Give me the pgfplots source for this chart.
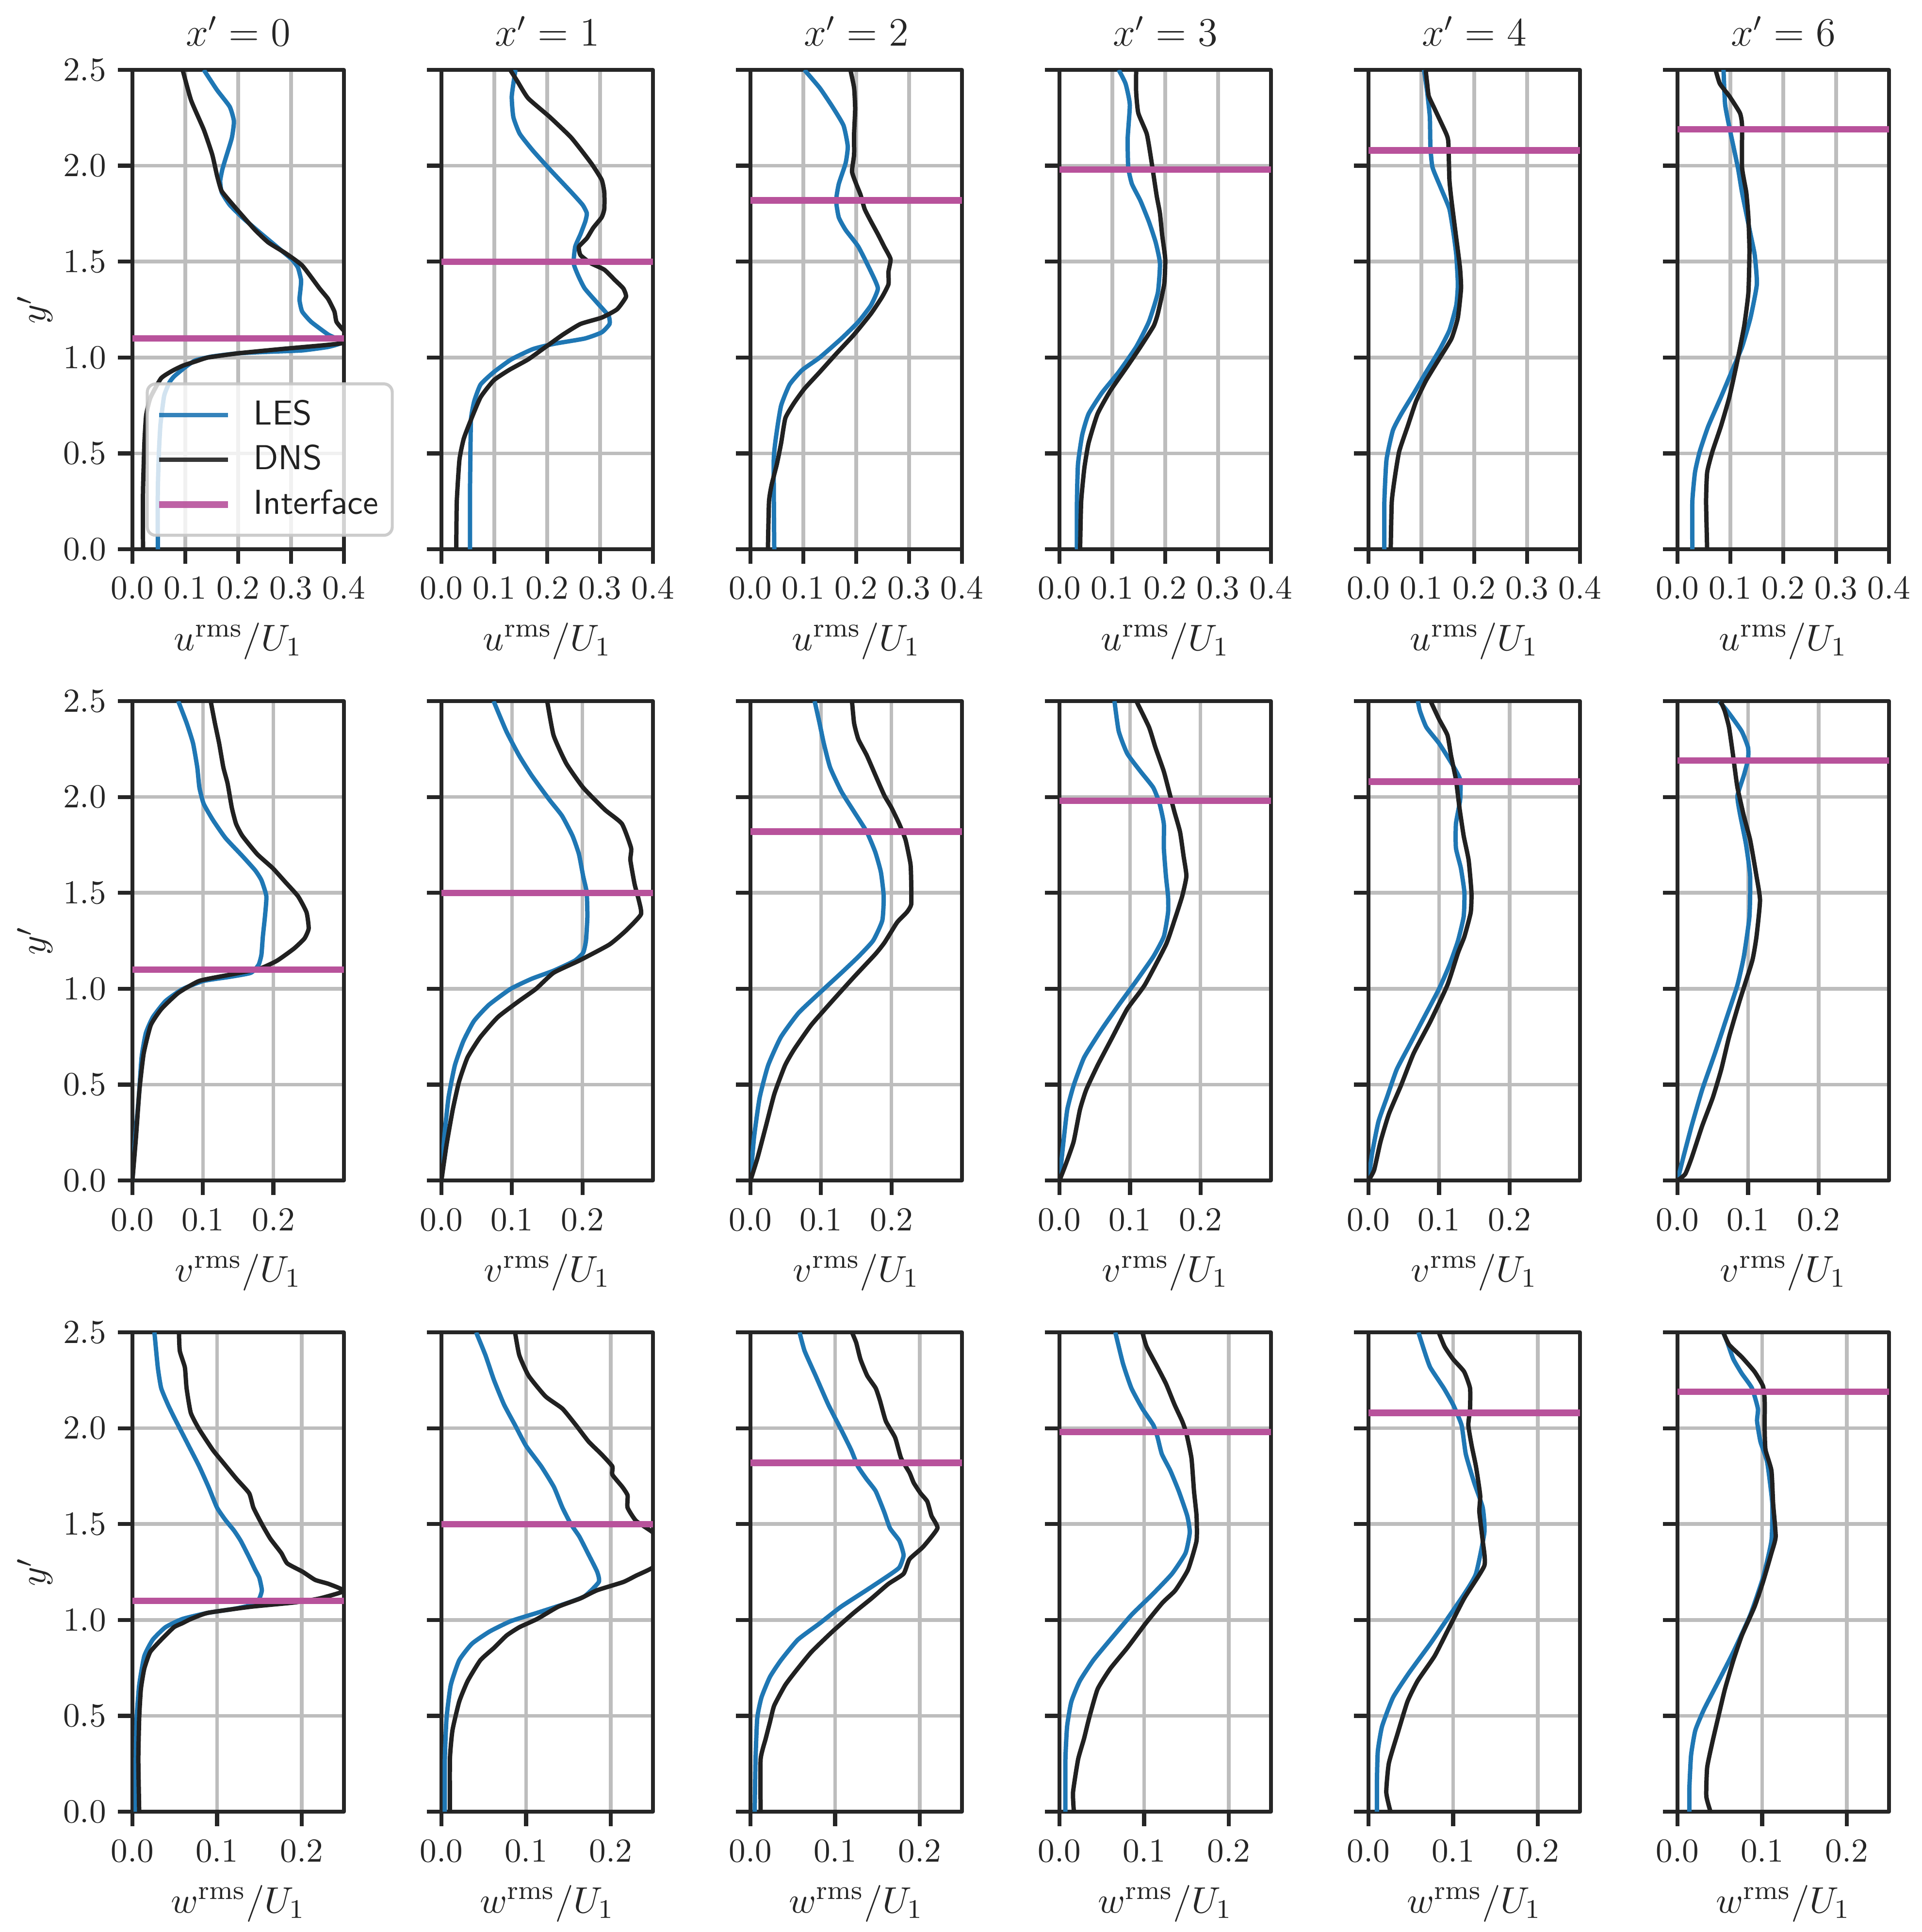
\documentclass[border=0pt]{standalone}
\usepackage{pgfplots}
\pgfplotsset{compat=1.18}
\definecolor{lesc}{HTML}{1F77B4}
\definecolor{dnsc}{HTML}{212121}
\definecolor{intc}{RGB}{184,82,155}
\definecolor{spinec}{HTML}{262626}
\definecolor{gridc}{HTML}{BDBDBD}
\pgfplotsset{
  panel/.style={
    scale only axis, width=63.02pt, height=142.82pt,
    anchor=north west,
    ymin=0, ymax=2.5, ytick={0,0.5,1,1.5,2,2.5},
    xmin=0,
    scaled ticks=false,
    grid=major,
    major grid style={gridc, line width=1.1pt},
    axis line style={spinec, line width=1.16pt},
    tick style={spinec, line width=1.2pt},
    major tick length=4.3pt,
    tick align=outside,
    tick pos=left,
    tick label style={font=\fontsize{10}{12}\selectfont, text=spinec},
    xticklabel style={yshift=-0.6pt},
    xticklabel={\pgfmathprintnumber[fixed,fixed zerofill,precision=1]{\tick}},
    yticklabel={\pgfmathprintnumber[fixed,fixed zerofill,precision=1]{\tick}},
    label style={font=\fontsize{11.3}{13}\selectfont, text=spinec},
    xlabel style={at={(axis description cs:0.5,0)}, anchor=base, yshift=-30.1pt},
    ylabel style={at={(axis description cs:-0.461,0.5)}, anchor=center},
    every axis title shift=0pt,
    title style={at={(axis description cs:0.5,1)}, anchor=base, yshift=7.1pt, font=\fontsize{12}{14}\selectfont, text=spinec},
    line join=round,
  },
  noyl/.style={yticklabels={}},
  urow/.style={xmax=0.4, xtick={0,0.1,0.2,0.3,0.4}, xlabel={$u^{\mathrm{rms}}/U_1$}},
  vrow/.style={xmax=0.3, xtick={0,0.1,0.2}, xlabel={$v^{\mathrm{rms}}/U_1$}},
  wrow/.style={xmax=0.25, xtick={0,0.1,0.2}, xlabel={$w^{\mathrm{rms}}/U_1$}},
  les/.style={lesc, line width=1.3pt, smooth, tension=0.3},
  dns/.style={dnsc, line width=1.3pt, smooth, tension=0.3},
  intf/.style={intc, line width=1.95pt},
}
\begin{document}
\begin{tikzpicture}
\useasboundingbox (0,0) rectangle (572.57pt,-575.60pt);
% ================= ROW 1 : u =================
\begin{axis}[panel, urow, at={(39.46pt,-20.82pt)}, title={$x' = 0$}, ylabel={$y'$},
  legend style={at={(0.063,0.026)}, anchor=south west, draw=black!22, line width=0.9pt,
    fill=white, fill opacity=0.8, text opacity=1, draw opacity=0.9, rounded corners=2.5pt,
    font=\sffamily\fontsize{10.3}{12}\selectfont, inner xsep=2.5pt, inner ysep=3.2pt,
    row sep=1.3pt, nodes={inner sep=1.6pt, text=dnsc}},
  legend cell align=left,
  legend image code/.code={\draw[#1] (0pt,0pt) -- (20.6pt,0pt); \path (25.6pt,0pt);}]
\addplot[les] coordinates {(0.048,0) (0.048,0.3) (0.05,0.5) (0.053,0.65) (0.06,0.8) (0.07,0.87) (0.079,0.902) (0.1,0.95) (0.119,0.985) (0.15,1.005) (0.2,1.022) (0.26,1.03) (0.321,1.037) (0.37,1.055) (0.394,1.075) (0.385,1.1) (0.37,1.12) (0.338,1.186) (0.321,1.24) (0.316,1.3) (0.318,1.36) (0.319,1.404) (0.313,1.469) (0.301,1.513) (0.273,1.578) (0.24,1.654) (0.208,1.73) (0.184,1.796) (0.169,1.861) (0.166,1.92) (0.17,1.98) (0.176,2.036) (0.188,2.145) (0.192,2.232) (0.184,2.308) (0.16,2.395) (0.135,2.5)};
\addlegendentry{LES}
\addplot[dns] coordinates {(0.02,0) (0.02,0.3) (0.022,0.5) (0.023,0.575) (0.026,0.7) (0.034,0.79) (0.054,0.891) (0.075,0.93) (0.095,0.957) (0.12,0.98) (0.143,1.0) (0.2,1.022) (0.281,1.044) (0.362,1.064) (0.4,1.076) (0.42,1.1) (0.4,1.14) (0.386,1.186) (0.382,1.24) (0.37,1.306) (0.354,1.36) (0.321,1.48) (0.289,1.545) (0.257,1.6) (0.232,1.665) (0.204,1.752) (0.18,1.829) (0.168,1.872) (0.16,1.949) (0.151,2.058) (0.135,2.188) (0.111,2.341) (0.095,2.5)};
\addlegendentry{DNS}
\addplot[intf] coordinates {(0,1.10) (0.4,1.10)};
\addlegendentry{Interface}
\end{axis}
\begin{axis}[panel, urow, noyl, at={(131.54pt,-20.82pt)}, title={$x' = 1$}]
\addplot[les] coordinates {(0.054,0) (0.054,0.3) (0.055,0.55) (0.056,0.684) (0.062,0.772) (0.074,0.859) (0.099,0.924) (0.132,0.99) (0.173,1.044) (0.214,1.072) (0.271,1.099) (0.303,1.131) (0.318,1.175) (0.316,1.218) (0.295,1.284) (0.271,1.36) (0.259,1.425) (0.25,1.491) (0.253,1.578) (0.263,1.643) (0.272,1.709) (0.275,1.752) (0.267,1.796) (0.246,1.861) (0.205,1.981) (0.173,2.079) (0.148,2.167) (0.136,2.254) (0.133,2.363) (0.14,2.5)};
\addplot[dns] coordinates {(0.028,0) (0.029,0.248) (0.034,0.466) (0.042,0.575) (0.054,0.663) (0.074,0.793) (0.099,0.881) (0.128,0.935) (0.164,0.99) (0.197,1.055) (0.23,1.12) (0.263,1.175) (0.303,1.208) (0.332,1.251) (0.349,1.316) (0.344,1.36) (0.328,1.404) (0.308,1.458) (0.283,1.491) (0.263,1.534) (0.26,1.578) (0.275,1.622) (0.287,1.676) (0.303,1.731) (0.308,1.774) (0.308,1.861) (0.303,1.927) (0.283,2.014) (0.246,2.145) (0.205,2.254) (0.164,2.352) (0.144,2.439) (0.13,2.5)};
\addplot[intf] coordinates {(0,1.50) (0.4,1.50)};
\end{axis}
\begin{axis}[panel, urow, noyl, at={(223.62pt,-20.82pt)}, title={$x' = 2$}]
\addplot[les] coordinates {(0.045,0) (0.044,0.466) (0.05,0.619) (0.058,0.75) (0.074,0.859) (0.098,0.935) (0.131,1.0) (0.172,1.099) (0.204,1.186) (0.228,1.273) (0.241,1.36) (0.228,1.447) (0.204,1.578) (0.18,1.665) (0.167,1.731) (0.162,1.818) (0.167,1.905) (0.18,2.014) (0.184,2.101) (0.176,2.21) (0.155,2.308) (0.131,2.406) (0.102,2.5)};
\addplot[dns] coordinates {(0.033,0) (0.035,0.248) (0.04,0.336) (0.05,0.445) (0.058,0.554) (0.066,0.684) (0.082,0.761) (0.102,0.837) (0.131,0.924) (0.163,1.022) (0.196,1.12) (0.228,1.229) (0.249,1.316) (0.261,1.382) (0.261,1.447) (0.265,1.513) (0.253,1.578) (0.241,1.643) (0.228,1.709) (0.216,1.774) (0.208,1.85) (0.2,1.905) (0.192,1.97) (0.196,2.058) (0.196,2.167) (0.198,2.297) (0.196,2.406) (0.189,2.5)};
\addplot[intf] coordinates {(0,1.82) (0.4,1.82)};
\end{axis}
\begin{axis}[panel, urow, noyl, at={(315.70pt,-20.82pt)}, title={$x' = 3$}]
\addplot[les] coordinates {(0.033,0) (0.033,0.248) (0.035,0.445) (0.043,0.597) (0.055,0.706) (0.08,0.815) (0.112,0.924) (0.145,1.055) (0.169,1.186) (0.186,1.338) (0.19,1.491) (0.182,1.6) (0.169,1.709) (0.153,1.818) (0.137,1.905) (0.13,1.992) (0.129,2.145) (0.133,2.319) (0.125,2.428) (0.112,2.5)};
\addplot[dns] coordinates {(0.039,0) (0.041,0.248) (0.047,0.423) (0.055,0.554) (0.072,0.706) (0.096,0.826) (0.129,0.957) (0.153,1.055) (0.178,1.164) (0.186,1.229) (0.198,1.382) (0.2,1.513) (0.194,1.643) (0.19,1.752) (0.184,1.84) (0.178,1.949) (0.172,2.058) (0.165,2.167) (0.149,2.275) (0.145,2.384) (0.145,2.5)};
\addplot[intf] coordinates {(0,1.98) (0.4,1.98)};
\end{axis}
\begin{axis}[panel, urow, noyl, at={(407.78pt,-20.82pt)}, title={$x' = 4$}]
\addplot[les] coordinates {(0.03,0) (0.03,0.248) (0.034,0.466) (0.046,0.619) (0.062,0.706) (0.086,0.815) (0.109,0.924) (0.133,1.033) (0.153,1.142) (0.166,1.273) (0.169,1.382) (0.166,1.534) (0.161,1.643) (0.153,1.774) (0.137,1.883) (0.121,1.992) (0.117,2.101) (0.116,2.254) (0.111,2.384) (0.105,2.5)};
\addplot[dns] coordinates {(0.042,0) (0.044,0.248) (0.05,0.379) (0.058,0.51) (0.074,0.641) (0.09,0.772) (0.109,0.881) (0.133,0.99) (0.157,1.099) (0.169,1.208) (0.175,1.36) (0.173,1.469) (0.165,1.643) (0.157,1.818) (0.153,1.927) (0.151,2.123) (0.147,2.167) (0.125,2.297) (0.114,2.363) (0.111,2.428) (0.108,2.5)};
\addplot[intf] coordinates {(0,2.08) (0.4,2.08)};
\end{axis}
\begin{axis}[panel, urow, noyl, at={(499.86pt,-20.82pt)}, title={$x' = 6$}]
\addplot[les] coordinates {(0.028,0) (0.028,0.248) (0.033,0.401) (0.042,0.51) (0.058,0.641) (0.082,0.793) (0.102,0.924) (0.122,1.055) (0.138,1.208) (0.15,1.382) (0.146,1.534) (0.138,1.643) (0.122,1.861) (0.114,1.992) (0.099,2.188) (0.09,2.319) (0.087,2.5)};
\addplot[dns] coordinates {(0.056,0) (0.054,0.248) (0.056,0.401) (0.066,0.51) (0.082,0.641) (0.098,0.793) (0.112,0.968) (0.126,1.164) (0.134,1.338) (0.136,1.556) (0.134,1.731) (0.13,1.861) (0.122,1.992) (0.122,2.21) (0.118,2.275) (0.098,2.363) (0.08,2.428) (0.072,2.5)};
\addplot[intf] coordinates {(0,2.19) (0.4,2.19)};
\end{axis}
% ================= ROW 2 : v =================
\begin{axis}[panel, vrow, at={(39.46pt,-208.88pt)}, ylabel={$y'$}]
\addplot[les] coordinates {(0,0) (0.004,0.223) (0.009,0.432) (0.013,0.642) (0.019,0.768) (0.029,0.852) (0.047,0.936) (0.071,0.998) (0.101,1.041) (0.138,1.062) (0.168,1.083) (0.179,1.125) (0.183,1.178) (0.185,1.272) (0.188,1.377) (0.19,1.482) (0.183,1.566) (0.174,1.618) (0.156,1.692) (0.132,1.786) (0.114,1.881) (0.101,1.965) (0.095,2.049) (0.092,2.154) (0.086,2.28) (0.077,2.385) (0.065,2.5)};
\addplot[dns] coordinates {(0,0) (0.005,0.223) (0.01,0.474) (0.016,0.663) (0.026,0.81) (0.041,0.894) (0.065,0.978) (0.095,1.041) (0.138,1.073) (0.18,1.104) (0.205,1.146) (0.229,1.209) (0.244,1.262) (0.25,1.314) (0.247,1.398) (0.235,1.482) (0.217,1.556) (0.199,1.629) (0.177,1.702) (0.156,1.797) (0.147,1.86) (0.141,1.944) (0.135,2.07) (0.129,2.154) (0.123,2.28) (0.117,2.385) (0.111,2.5)};
\addplot[intf] coordinates {(0,1.10) (0.3,1.10)};
\end{axis}
\begin{axis}[panel, vrow, noyl, at={(131.54pt,-208.88pt)}]
\addplot[les] coordinates {(0,0) (0.004,0.223) (0.01,0.432) (0.019,0.6) (0.031,0.726) (0.046,0.831) (0.067,0.915) (0.098,0.999) (0.128,1.052) (0.159,1.094) (0.189,1.146) (0.201,1.188) (0.205,1.251) (0.207,1.377) (0.206,1.503) (0.201,1.587) (0.195,1.702) (0.186,1.797) (0.171,1.902) (0.153,1.986) (0.128,2.112) (0.11,2.217) (0.092,2.343) (0.074,2.5)};
\addplot[dns] coordinates {(0,0) (0.007,0.181) (0.016,0.369) (0.025,0.516) (0.037,0.642) (0.055,0.747) (0.08,0.852) (0.11,0.936) (0.134,0.999) (0.159,1.083) (0.195,1.146) (0.238,1.23) (0.262,1.304) (0.283,1.388) (0.28,1.461) (0.274,1.545) (0.268,1.671) (0.269,1.734) (0.256,1.86) (0.232,1.933) (0.201,2.049) (0.177,2.175) (0.159,2.322) (0.15,2.5)};
\addplot[intf] coordinates {(0,1.50) (0.3,1.50)};
\end{axis}
\begin{axis}[panel, vrow, noyl, at={(223.62pt,-208.88pt)}]
\addplot[les] coordinates {(0,0) (0.005,0.223) (0.013,0.432) (0.025,0.6) (0.043,0.747) (0.068,0.873) (0.098,0.978) (0.129,1.083) (0.153,1.167) (0.174,1.251) (0.187,1.356) (0.189,1.482) (0.185,1.608) (0.177,1.713) (0.165,1.818) (0.147,1.923) (0.129,2.028) (0.113,2.154) (0.104,2.28) (0.098,2.385) (0.091,2.5)};
\addplot[dns] coordinates {(0,0) (0.01,0.118) (0.022,0.285) (0.034,0.453) (0.049,0.6) (0.062,0.684) (0.086,0.81) (0.116,0.936) (0.147,1.062) (0.177,1.18) (0.19,1.24) (0.208,1.346) (0.222,1.4) (0.228,1.44) (0.228,1.55) (0.227,1.65) (0.22,1.776) (0.211,1.86) (0.2,1.944) (0.19,2.007) (0.18,2.09) (0.165,2.217) (0.153,2.301) (0.147,2.385) (0.144,2.5)};
\addplot[intf] coordinates {(0,1.82) (0.3,1.82)};
\end{axis}
\begin{axis}[panel, vrow, noyl, at={(315.70pt,-208.88pt)}]
\addplot[les] coordinates {(0,0) (0.005,0.181) (0.011,0.369) (0.02,0.495) (0.035,0.642) (0.06,0.789) (0.084,0.915) (0.109,1.041) (0.133,1.167) (0.148,1.272) (0.154,1.398) (0.154,1.482) (0.151,1.587) (0.148,1.734) (0.148,1.86) (0.142,1.965) (0.133,2.049) (0.115,2.133) (0.096,2.227) (0.084,2.343) (0.078,2.5)};
\addplot[dns] coordinates {(0,0) (0.008,0.076) (0.02,0.202) (0.029,0.369) (0.038,0.474) (0.054,0.6) (0.075,0.747) (0.096,0.894) (0.121,1.02) (0.151,1.23) (0.163,1.356) (0.174,1.482) (0.18,1.587) (0.176,1.692) (0.171,1.818) (0.163,1.923) (0.157,2.007) (0.148,2.133) (0.136,2.259) (0.127,2.364) (0.109,2.5)};
\addplot[intf] coordinates {(0,1.98) (0.3,1.98)};
\end{axis}
\begin{axis}[panel, vrow, noyl, at={(407.78pt,-208.88pt)}]
\addplot[les] coordinates {(0,0) (0.005,0.139) (0.014,0.306) (0.026,0.432) (0.04,0.579) (0.058,0.705) (0.076,0.831) (0.1,0.999) (0.115,1.125) (0.127,1.251) (0.135,1.377) (0.136,1.503) (0.131,1.629) (0.124,1.734) (0.124,1.86) (0.13,1.986) (0.13,2.091) (0.118,2.175) (0.1,2.28) (0.082,2.364) (0.073,2.448) (0.07,2.5)};
\addplot[dns] coordinates {(0,0) (0.008,0.055) (0.017,0.202) (0.029,0.348) (0.046,0.495) (0.064,0.663) (0.088,0.831) (0.112,1.02) (0.127,1.188) (0.136,1.272) (0.145,1.398) (0.146,1.503) (0.142,1.671) (0.135,1.797) (0.129,1.944) (0.124,2.091) (0.117,2.217) (0.112,2.322) (0.1,2.406) (0.088,2.5)};
\addplot[intf] coordinates {(0,2.08) (0.3,2.08)};
\end{axis}
\begin{axis}[panel, vrow, noyl, at={(499.86pt,-208.88pt)}]
\addplot[les] coordinates {(0,0) (0.008,0.118) (0.02,0.285) (0.035,0.474) (0.053,0.663) (0.07,0.852) (0.085,1.02) (0.094,1.167) (0.102,1.377) (0.103,1.587) (0.097,1.755) (0.088,1.923) (0.085,2.007) (0.094,2.112) (0.1,2.196) (0.1,2.259) (0.091,2.343) (0.073,2.437) (0.059,2.5)};
\addplot[dns] coordinates {(0,0) (0.011,0.034) (0.02,0.118) (0.035,0.285) (0.05,0.432) (0.062,0.579) (0.073,0.747) (0.088,0.936) (0.106,1.146) (0.112,1.272) (0.117,1.461) (0.112,1.587) (0.103,1.776) (0.094,1.902) (0.085,2.049) (0.081,2.154) (0.078,2.238) (0.073,2.364) (0.067,2.448) (0.061,2.5)};
\addplot[intf] coordinates {(0,2.19) (0.3,2.19)};
\end{axis}
% ================= ROW 3 : w =================
\begin{axis}[panel, wrow, at={(39.46pt,-396.94pt)}, ylabel={$y'$}]
\addplot[les] coordinates {(0.004,0) (0.004,0.273) (0.005,0.488) (0.008,0.66) (0.014,0.811) (0.024,0.897) (0.039,0.962) (0.059,1.005) (0.089,1.037) (0.12,1.058) (0.143,1.08) (0.15,1.112) (0.153,1.155) (0.15,1.22) (0.145,1.263) (0.138,1.327) (0.128,1.413) (0.12,1.467) (0.11,1.521) (0.1,1.586) (0.09,1.693) (0.079,1.801) (0.069,1.887) (0.059,1.973) (0.049,2.059) (0.042,2.123) (0.034,2.209) (0.03,2.317) (0.026,2.5)};
\addplot[dns] coordinates {(0.008,0) (0.007,0.273) (0.008,0.488) (0.01,0.639) (0.014,0.746) (0.021,0.833) (0.034,0.897) (0.049,0.962) (0.059,0.983) (0.069,1.005) (0.089,1.037) (0.14,1.069) (0.191,1.091) (0.221,1.112) (0.25,1.151) (0.232,1.188) (0.216,1.209) (0.201,1.252) (0.183,1.295) (0.176,1.349) (0.163,1.424) (0.153,1.5) (0.143,1.586) (0.138,1.661) (0.123,1.736) (0.107,1.822) (0.095,1.887) (0.079,1.994) (0.069,2.08) (0.064,2.209) (0.062,2.317) (0.056,2.403) (0.055,2.5)};
\addplot[intf] coordinates {(0,1.10) (0.25,1.10)};
\end{axis}
\begin{axis}[panel, wrow, noyl, at={(131.54pt,-396.94pt)}]
\addplot[les] coordinates {(0.004,0) (0.004,0.273) (0.006,0.488) (0.011,0.66) (0.021,0.79) (0.036,0.876) (0.057,0.94) (0.082,0.994) (0.113,1.037) (0.143,1.08) (0.169,1.123) (0.186,1.198) (0.184,1.252) (0.173,1.349) (0.163,1.435) (0.153,1.5) (0.143,1.586) (0.133,1.693) (0.118,1.801) (0.1,1.908) (0.087,2.016) (0.074,2.123) (0.062,2.252) (0.052,2.381) (0.041,2.5)};
\addplot[dns] coordinates {(0.01,0) (0.01,0.273) (0.013,0.424) (0.021,0.574) (0.031,0.682) (0.046,0.79) (0.062,0.854) (0.077,0.919) (0.092,0.962) (0.113,1.005) (0.138,1.069) (0.164,1.112) (0.184,1.155) (0.215,1.198) (0.23,1.231) (0.25,1.274) (0.27,1.36) (0.25,1.456) (0.23,1.517) (0.22,1.586) (0.22,1.65) (0.214,1.693) (0.202,1.758) (0.202,1.801) (0.189,1.865) (0.174,1.93) (0.159,2.016) (0.143,2.102) (0.123,2.166) (0.103,2.274) (0.092,2.381) (0.087,2.5)};
\addplot[intf] coordinates {(0,1.50) (0.25,1.50)};
\end{axis}
\begin{axis}[panel, wrow, noyl, at={(223.62pt,-396.94pt)}]
\addplot[les] coordinates {(0.005,0) (0.006,0.273) (0.008,0.488) (0.013,0.596) (0.023,0.703) (0.036,0.79) (0.056,0.897) (0.082,0.983) (0.107,1.069) (0.137,1.155) (0.163,1.231) (0.176,1.274) (0.181,1.338) (0.176,1.413) (0.165,1.478) (0.158,1.564) (0.148,1.672) (0.137,1.736) (0.127,1.801) (0.119,1.887) (0.107,1.994) (0.092,2.123) (0.077,2.274) (0.064,2.403) (0.058,2.5)};
\addplot[dns] coordinates {(0.012,0) (0.012,0.273) (0.018,0.381) (0.023,0.467) (0.028,0.553) (0.041,0.66) (0.054,0.736) (0.072,0.833) (0.097,0.94) (0.122,1.037) (0.143,1.112) (0.163,1.188) (0.181,1.241) (0.188,1.317) (0.204,1.381) (0.221,1.478) (0.214,1.543) (0.209,1.618) (0.201,1.661) (0.193,1.715) (0.188,1.768) (0.178,1.844) (0.171,1.951) (0.16,2.037) (0.153,2.145) (0.148,2.209) (0.138,2.274) (0.13,2.36) (0.125,2.446) (0.12,2.5)};
\addplot[intf] coordinates {(0,1.82) (0.25,1.82)};
\end{axis}
\begin{axis}[panel, wrow, noyl, at={(315.70pt,-396.94pt)}]
\addplot[les] coordinates {(0.007,0) (0.007,0.273) (0.009,0.445) (0.014,0.574) (0.024,0.682) (0.04,0.79) (0.06,0.897) (0.085,1.026) (0.11,1.134) (0.133,1.241) (0.149,1.349) (0.154,1.457) (0.151,1.543) (0.141,1.672) (0.131,1.779) (0.121,1.865) (0.116,1.951) (0.111,2.016) (0.098,2.102) (0.085,2.209) (0.075,2.338) (0.066,2.5)};
\addplot[dns] coordinates {(0.017,0) (0.016,0.101) (0.022,0.273) (0.029,0.381) (0.035,0.488) (0.045,0.639) (0.06,0.746) (0.08,0.854) (0.102,0.983) (0.122,1.091) (0.137,1.155) (0.152,1.263) (0.162,1.413) (0.162,1.543) (0.159,1.672) (0.156,1.844) (0.15,1.973) (0.145,2.037) (0.136,2.123) (0.126,2.231) (0.116,2.317) (0.103,2.425) (0.098,2.5)};
\addplot[intf] coordinates {(0,1.98) (0.25,1.98)};
\end{axis}
\begin{axis}[panel, wrow, noyl, at={(407.78pt,-396.94pt)}]
\addplot[les] coordinates {(0.01,0) (0.01,0.166) (0.011,0.316) (0.016,0.445) (0.029,0.596) (0.048,0.725) (0.073,0.876) (0.093,1.005) (0.113,1.134) (0.127,1.241) (0.137,1.457) (0.135,1.586) (0.125,1.715) (0.115,1.865) (0.11,2.016) (0.1,2.123) (0.089,2.209) (0.073,2.317) (0.066,2.403) (0.059,2.5)};
\addplot[dns] coordinates {(0.026,0) (0.021,0.101) (0.024,0.252) (0.034,0.402) (0.046,0.574) (0.058,0.682) (0.078,0.811) (0.093,0.94) (0.113,1.112) (0.137,1.284) (0.135,1.413) (0.131,1.564) (0.132,1.65) (0.127,1.801) (0.122,1.908) (0.118,2.016) (0.12,2.102) (0.12,2.209) (0.113,2.295) (0.1,2.36) (0.09,2.425) (0.083,2.5)};
\addplot[intf] coordinates {(0,2.08) (0.25,2.08)};
\end{axis}
\begin{axis}[panel, wrow, noyl, at={(499.86pt,-396.94pt)}]
\addplot[les] coordinates {(0.014,0) (0.014,0.123) (0.016,0.295) (0.021,0.424) (0.031,0.531) (0.046,0.66) (0.066,0.833) (0.086,1.026) (0.101,1.22) (0.111,1.413) (0.112,1.607) (0.106,1.822) (0.098,1.93) (0.094,2.037) (0.095,2.102) (0.088,2.209) (0.076,2.285) (0.066,2.36) (0.059,2.446) (0.054,2.5)};
\addplot[dns] coordinates {(0.039,0) (0.034,0.08) (0.035,0.23) (0.041,0.359) (0.049,0.51) (0.056,0.639) (0.066,0.79) (0.076,0.919) (0.091,1.069) (0.101,1.198) (0.111,1.349) (0.116,1.435) (0.113,1.607) (0.111,1.779) (0.104,1.887) (0.103,1.994) (0.103,2.145) (0.101,2.22) (0.091,2.295) (0.076,2.371) (0.061,2.435) (0.054,2.5)};
\addplot[intf] coordinates {(0,2.19) (0.25,2.19)};
\end{axis}
\end{tikzpicture}
\end{document}
